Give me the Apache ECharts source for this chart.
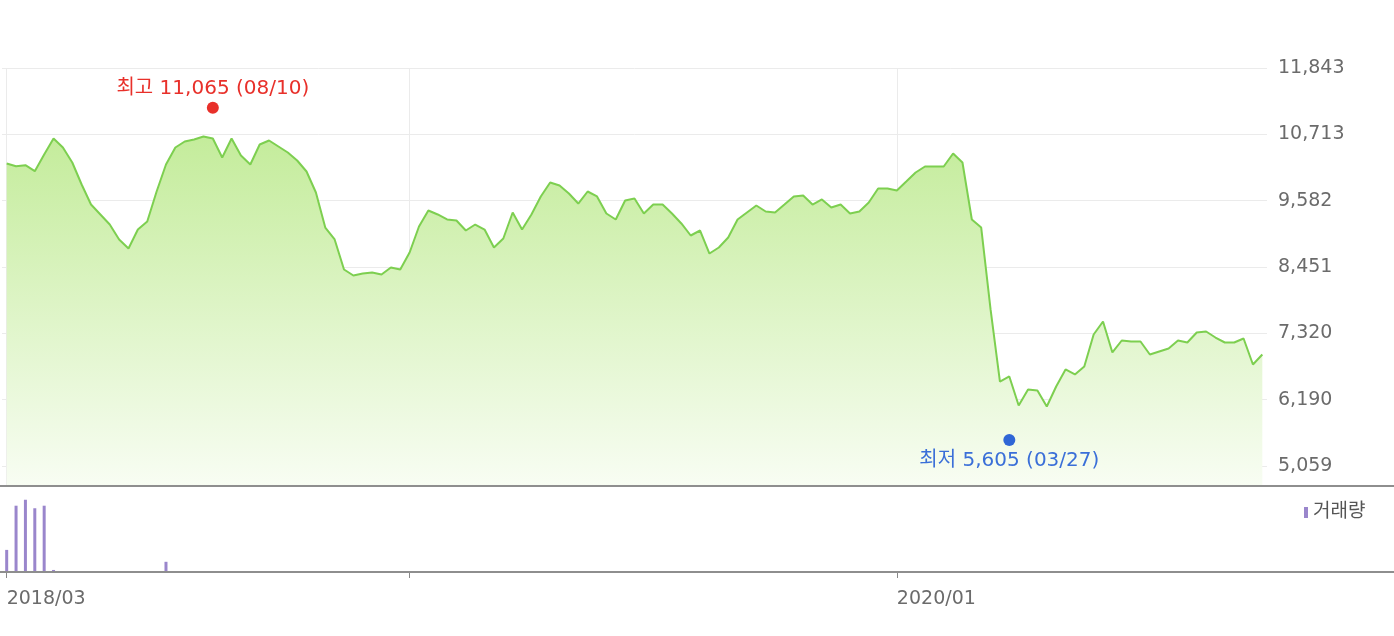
<!DOCTYPE html>
<html>
<head>
<meta charset="utf-8">
<script src="https://cdn.jsdelivr.net/npm/echarts@6/dist/echarts.min.js"></script>
<style>
html,body{margin:0;padding:0;background:#fff;}
#c{width:1394px;height:636px;}
</style>
</head>
<body>
<div id="c"></div>
<script>
// ---- data ----
const START_DATE = [2018, 2, 9]; // first weekly point (UTC y, m-1, d)
const priceValues = [
  10215,10169,10186,10084,10369,10641,10488,10232,9857,9516,
  9346,9175,8920,8766,9090,9227,9738,10198,10488,10590,
  10624,10675,10641,10317,10641,10352,10198,10539,10607,10505,
  10403,10266,10079,9721,9124,8920,8408,8306,8340,8357,
  8323,8442,8408,
  8698,9141,9414,9346,9261,9244,9073,9175,9090,8783,
  8937,9380,9090,9346,9653,9891,9840,9704,9533,9738,
  9653,9363,9261,9585,9619,9363,9516,9516,9363,9193,
  8988,9073,8681,8783,8954,9261,9380,9499,9397,9380,
  9516,9653,9670,9516,9602,9465,9516,9363,9397,9550,
  9789,9789,9755,
  9908,10062,10164,10164,10164,10386,10232,9261,9124,7727,
  6499,6585,6090,6363,6346,6073,6414,6704,6619,6755,
  7300,7522,6994,7198,7181,7181,6960,7011,7062,7198,
  7164,7335,7352,7249,7164,7164,7232,6789,6960
];
// [category index, relative volume]
const volumePoints = [[0,26],[1,78],[2,85],[3,75],[4,78],[5,2.4],[17,12],[110,1.2],[118,1.2]];
const yTickLabels = ['5,059','6,190','7,320','8,451','9,582','10,713','11,843'];
const yTickValues = [5059, 6190, 7320, 8451, 9582, 10713, 11843];
const priceAxisMin = 4718;
const priceAxisMax = 11843;
const gridMonths = ['2018/03','2019/01','2020/01'];
const labelMonths = ['2018/03','2020/01'];
const highMark = { index: 22, value: 11065, name: '최고' };
const lowMark  = { index: 107, value: 5605, name: '최저' };
const volumeName = '거래량';

// ---- build ----
const FONT = '"DejaVu Sans", "Noto Sans CJK KR", sans-serif';
const pad = n => (n < 10 ? '0' : '') + n;
const categories = priceValues.map((_, i) => {
  const d = new Date(Date.UTC(START_DATE[0], START_DATE[1], START_DATE[2]) + i * 7 * 86400000);
  return d.getUTCFullYear() + '/' + pad(d.getUTCMonth() + 1) + '/' + pad(d.getUTCDate());
});
const firstIdx = m => categories.findIndex(c => c.indexOf(m) === 0);
const gridIdx = gridMonths.map(firstIdx);
const labelIdx = labelMonths.map(firstIdx);
const markText = m => m.name + ' ' + m.value.toLocaleString('en-US') + ' (' + categories[m.index].slice(5) + ')';

const PRICE_TOP = 68, PRICE_H = 418;
const tickSpan = yTickValues[yTickValues.length - 1] - yTickValues[0];
const labelGridH = PRICE_H * tickSpan / (priceAxisMax - priceAxisMin);
const labelGridTop = PRICE_TOP + PRICE_H * (priceAxisMax - yTickValues[yTickValues.length - 1]) / (priceAxisMax - priceAxisMin);

const chart = echarts.init(document.getElementById('c'), null, { renderer: 'canvas' });
chart.setOption({
  animation: false,
  backgroundColor: '#ffffff',
  textStyle: { fontFamily: FONT },
  grid: [
    { left: 2, top: PRICE_TOP, width: 1265, height: PRICE_H },
    { left: 2, top: 487, width: 1265, height: 85 },
    { left: 2, top: labelGridTop, width: 1265, height: labelGridH }
  ],
  legend: {
    data: [volumeName],
    left: 1304, top: 503, padding: 0,
    icon: 'rect', itemWidth: 4, itemHeight: 11, itemGap: 5,
    selectedMode: false,
    textStyle: { fontSize: 19, color: '#555', fontFamily: FONT }
  },
  xAxis: [
    {
      type: 'category', gridIndex: 0, data: categories, boundaryGap: true,
      axisLine: { show: false }, axisTick: { show: false }, axisLabel: { show: false },
      splitLine: { show: true, alignWithLabel: true, interval: i => gridIdx.includes(i), lineStyle: { color: '#ebebeb', width: 1 } }
    },
    {
      type: 'category', gridIndex: 1, data: categories, boundaryGap: true,
      axisLine: { show: false },
      axisTick: { show: true, alignWithLabel: true, interval: i => gridIdx.includes(i), length: 6, lineStyle: { color: '#888' } },
      axisLabel: {
        interval: i => labelIdx.includes(i), formatter: v => v.slice(0, 7),
        align: 'left', margin: 18, color: '#6b6b6b', fontSize: 19, fontFamily: FONT
      },
      splitLine: { show: false }
    },
    { type: 'value', gridIndex: 2, show: false, min: 0, max: 1 }
  ],
  yAxis: [
    { type: 'value', gridIndex: 0, min: priceAxisMin, max: priceAxisMax, show: false },
    { type: 'value', gridIndex: 1, min: 0, max: 100, show: false },
    {
      type: 'value', gridIndex: 2, position: 'right',
      min: 0, max: yTickLabels.length - 1, interval: 1,
      axisLine: { show: false }, axisTick: { show: false },
      axisLabel: {
        margin: 11, color: '#6b6b6b', fontSize: 19, fontFamily: FONT,
        formatter: v => yTickLabels[Math.round(v)] || ''
      },
      splitLine: { show: true, lineStyle: { color: '#ebebeb', width: 1 } }
    }
  ],
  series: [
    {
      type: 'line', xAxisIndex: 0, yAxisIndex: 0, data: priceValues,
      symbol: 'none', showSymbol: false, silent: true, z: 2,
      lineStyle: { color: '#7dcf50', width: 2 },
      areaStyle: {
        opacity: 1,
        color: new echarts.graphic.LinearGradient(0, 0, 0, 1, [
          { offset: 0, color: '#c4ec9b' },
          { offset: 1, color: '#f8fdf3' }
        ])
      }
    },
    {
      type: 'scatter', xAxisIndex: 0, yAxisIndex: 0, silent: true, symbolSize: 12, z: 10,
      data: [
        {
          value: [highMark.index, highMark.value], symbolOffset: [0, -6],
          itemStyle: { color: '#e8302a', opacity: 1 },
          label: { show: true, position: 'top', distance: 3, formatter: markText(highMark), color: '#e8302a', fontSize: 20, fontFamily: FONT }
        },
        {
          value: [lowMark.index, lowMark.value], symbolOffset: [0, 6],
          itemStyle: { color: '#2f66d6', opacity: 1 },
          label: { show: true, position: 'bottom', distance: 5, formatter: markText(lowMark), color: '#3a6fd8', fontSize: 20, fontFamily: FONT }
        }
      ]
    },
    {
      type: 'bar', name: volumeName, xAxisIndex: 1, yAxisIndex: 1,
      data: volumePoints, barWidth: 3, silent: true,
      itemStyle: { color: '#9a86cc' }
    }
  ],
  graphic: [
    { type: 'line', z: 100, silent: true, shape: { x1: 0, y1: 486, x2: 1394, y2: 486 }, style: { stroke: '#8e8e8e', lineWidth: 2 } },
    { type: 'line', z: 100, silent: true, shape: { x1: 0, y1: 572, x2: 1394, y2: 572 }, style: { stroke: '#8e8e8e', lineWidth: 2 } }
  ]
});
</script>
</body>
</html>
